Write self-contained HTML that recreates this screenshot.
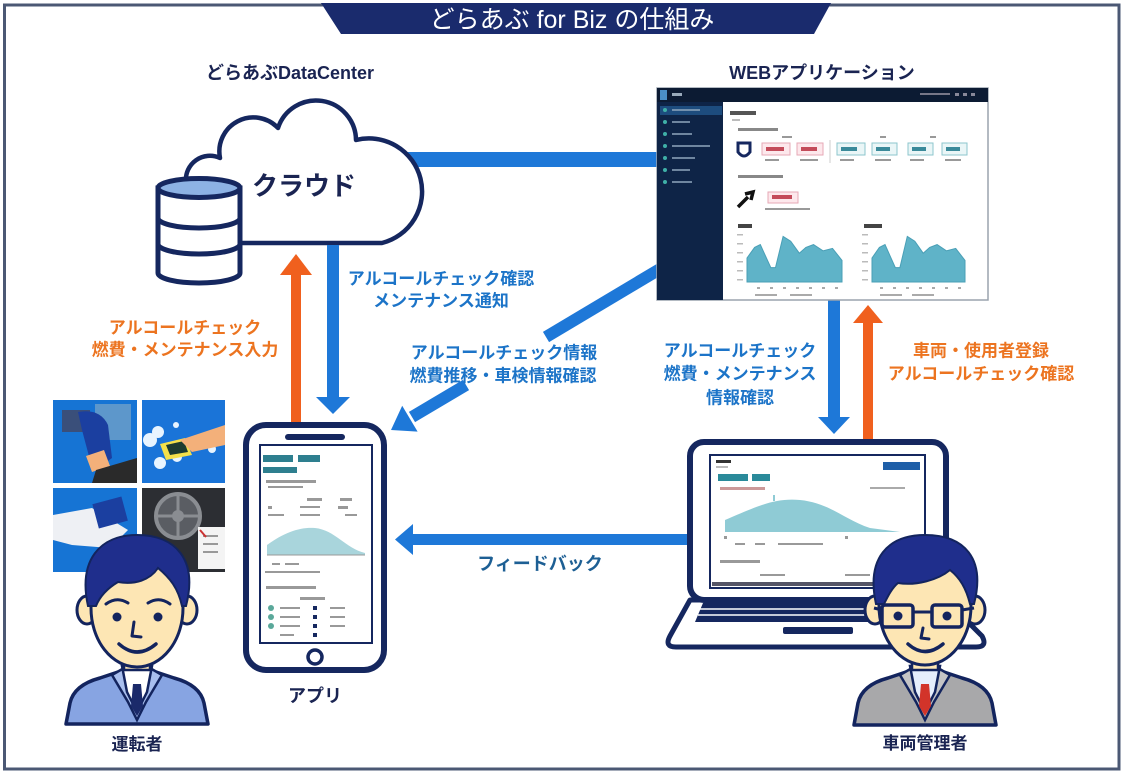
<!DOCTYPE html>
<html><head><meta charset="utf-8">
<style>
html,body{margin:0;padding:0;background:#fff;}
svg{display:block;}
text{font-family:"Liberation Sans","Noto Sans CJK JP",sans-serif;}
.lb{font-size:17px;font-weight:bold;text-anchor:middle;}
.bl{fill:#1c74c8;}
.or{fill:#ec7420;}
.nv{fill:#1a2452;}
</style></head>
<body>
<svg width="1124" height="776" viewBox="0 0 1124 776" xmlns="http://www.w3.org/2000/svg">
<rect x="0" y="0" width="1124" height="776" fill="#fff"/>
<!-- frame -->
<rect x="4.5" y="5" width="1114.5" height="764" fill="none" stroke="#4b5874" stroke-width="3"/>
<!-- banner -->
<polygon points="321,3 831,3 814,34 341,34" fill="#1a2b6d"/>
<text x="572" y="28" font-size="25" fill="#fff" text-anchor="middle">どらあぶ for Biz の仕組み</text>

<text x="290" y="79" font-size="18" font-weight="bold" class="nv" text-anchor="middle">どらあぶDataCenter</text>
<text x="822" y="79" font-size="18" font-weight="bold" class="nv" text-anchor="middle">WEBアプリケーション</text>

<!-- horizontal bar -->
<rect x="400" y="152" width="260" height="15" fill="#1e78d8"/>

<!-- cloud -->
<path d="M186,190 L186,182 A24,24 0 0 1 220,158 A34,34 0 0 1 278,128 A40,40 0 0 1 356,140 A53,53 0 0 1 382,243 L240,243 L200,243 Z" fill="#fff" stroke="#15275f" stroke-width="4.5" stroke-linejoin="round"/>
<text x="304" y="195" font-size="26" font-weight="bold" class="nv" text-anchor="middle">クラウド</text>

<!-- database -->
<path d="M158,188 L158,273 A41,10 0 0 0 240,273 L240,188 Z" fill="#fff" stroke="#15275f" stroke-width="5"/>
<ellipse cx="199" cy="188" rx="41" ry="9.5" fill="#8db2e4" stroke="#15275f" stroke-width="5"/>
<path d="M158,218 A41,10 0 0 0 240,218" fill="none" stroke="#15275f" stroke-width="5"/>
<path d="M158,244 A41,10 0 0 0 240,244" fill="none" stroke="#15275f" stroke-width="5"/>

<!-- left vertical arrows -->
<rect x="327" y="245" width="12" height="155" fill="#1e78d8"/>
<polygon points="316,397 350,397 333,414" fill="#1e78d8"/>
<rect x="291" y="272" width="10" height="152" fill="#f0601e"/>
<polygon points="280,275 312,275 296,254" fill="#f0601e"/>

<!-- left labels -->
<text x="441" y="284.5" class="lb bl">アルコールチェック確認</text>
<text x="441" y="306.5" class="lb bl">メンテナンス通知</text>
<text x="185" y="333.5" class="lb or">アルコールチェック</text>
<text x="185" y="355.5" class="lb or">燃費・メンテナンス入力</text>

<!-- diagonal arrow -->
<line x1="660" y1="269" x2="546" y2="337" stroke="#1e78d8" stroke-width="12"/>
<line x1="466" y1="385" x2="412" y2="417" stroke="#1e78d8" stroke-width="12"/>
<polygon points="391,430 417.6,431.6 402.2,405.8" fill="#1e78d8"/>
<text x="504" y="358.5" class="lb bl">アルコールチェック情報</text>
<text x="503" y="381.5" class="lb bl">燃費推移・車検情報確認</text>

<!-- right arrows -->
<rect x="828" y="298" width="12" height="122" fill="#1e78d8"/>
<polygon points="818,417 850,417 834,434" fill="#1e78d8"/>
<rect x="863" y="320" width="10" height="122" fill="#f0601e"/>
<polygon points="853,323 883,323 868,305" fill="#f0601e"/>
<text x="740" y="356.5" class="lb bl">アルコールチェック</text>
<text x="740" y="379.5" class="lb bl">燃費・メンテナンス</text>
<text x="740" y="403.5" class="lb bl">情報確認</text>
<text x="981" y="356.5" class="lb or">車両・使用者登録</text>
<text x="981" y="379.5" class="lb or">アルコールチェック確認</text>

<!-- feedback arrow -->
<rect x="408" y="534" width="282" height="11" fill="#1e78d8"/>
<polygon points="395,539.5 413,524 413,555" fill="#1e78d8"/>
<text x="540" y="570" font-size="18" font-weight="bold" fill="#1d5f94" text-anchor="middle">フィードバック</text>

<!-- web app screenshot -->
<g>
<rect x="657" y="88" width="331" height="212" fill="#fff" stroke="#9aa3ad" stroke-width="1.5"/>
<rect x="657" y="88" width="331" height="14" fill="#0c1b33"/>
<rect x="660" y="90" width="7" height="10" fill="#4b8fc7"/>
<rect x="672" y="93" width="10" height="3" fill="#9ab"/>
<rect x="920" y="93" width="30" height="2" fill="#778"/>
<rect x="955" y="93" width="4" height="3" fill="#889"/><rect x="963" y="93" width="4" height="3" fill="#889"/><rect x="971" y="93" width="4" height="3" fill="#889"/>
<rect x="657" y="102" width="66" height="198" fill="#0e2447"/>
<rect x="660" y="106" width="62" height="9" fill="#1d4c7e"/>
<g fill="#3fb0a8">
<circle cx="665" cy="110" r="2"/><circle cx="665" cy="122" r="2"/><circle cx="665" cy="134" r="2"/><circle cx="665" cy="146" r="2"/><circle cx="665" cy="158" r="2"/><circle cx="665" cy="170" r="2"/><circle cx="665" cy="182" r="2"/>
</g>
<g stroke="#8fa6bd" stroke-width="1.5">
<line x1="672" y1="110" x2="700" y2="110"/><line x1="672" y1="122" x2="690" y2="122"/><line x1="672" y1="134" x2="692" y2="134"/><line x1="672" y1="146" x2="710" y2="146"/><line x1="672" y1="158" x2="695" y2="158"/><line x1="672" y1="170" x2="690" y2="170"/><line x1="672" y1="182" x2="692" y2="182"/>
</g>
<rect x="730" y="111" width="26" height="4" fill="#555"/>
<rect x="732" y="119" width="8" height="2" fill="#bbb"/>
<rect x="738" y="128" width="40" height="3" fill="#888"/>
<path d="M738,143 L750,143 L750,152 Q744,160 738,152 Z" fill="none" stroke="#15275f" stroke-width="3"/>
<rect x="782" y="136" width="10" height="2" fill="#999"/>
<rect x="762" y="143" width="28" height="12" fill="#fde8ec" stroke="#e6a8b6"/>
<rect x="766" y="147" width="18" height="4" fill="#c44b5a"/>
<rect x="797" y="143" width="26" height="12" fill="#fde8ec" stroke="#e6a8b6"/>
<rect x="801" y="147" width="16" height="4" fill="#c44b5a"/>
<line x1="830" y1="140" x2="830" y2="163" stroke="#ccc"/>
<g fill="#eaf6f7" stroke="#8cc6cc">
<rect x="837" y="143" width="28" height="12"/><rect x="872" y="143" width="25" height="12"/><rect x="908" y="143" width="25" height="12"/><rect x="942" y="143" width="25" height="12"/>
</g>
<g fill="#3a8a9a">
<rect x="841" y="147" width="16" height="4"/><rect x="876" y="147" width="14" height="4"/><rect x="912" y="147" width="14" height="4"/><rect x="946" y="147" width="14" height="4"/>
</g>
<g fill="#999">
<rect x="765" y="159" width="14" height="2"/><rect x="800" y="159" width="18" height="2"/><rect x="840" y="159" width="14" height="2"/><rect x="875" y="159" width="16" height="2"/><rect x="910" y="159" width="14" height="2"/><rect x="945" y="159" width="16" height="2"/>
<rect x="880" y="136" width="6" height="2"/><rect x="930" y="136" width="6" height="2"/>
</g>
<rect x="738" y="175" width="45" height="3" fill="#888"/>
<path d="M738,207 L748,197 M745,194 L753,192 L751,200" stroke="#111" stroke-width="3.5" fill="none"/>
<rect x="768" y="192" width="30" height="11" fill="#fde8ec" stroke="#e6a8b6"/>
<rect x="772" y="195" width="20" height="4" fill="#c44b5a"/>
<rect x="765" y="208" width="45" height="2" fill="#999"/>
<rect x="738" y="224" width="14" height="4" fill="#444"/>
<rect x="864" y="224" width="18" height="4" fill="#444"/>
<g fill="#bbb">
<rect x="737" y="234" width="6" height="1.5"/><rect x="737" y="243" width="6" height="1.5"/><rect x="737" y="252" width="6" height="1.5"/><rect x="737" y="261" width="6" height="1.5"/><rect x="737" y="270" width="6" height="1.5"/><rect x="737" y="279" width="6" height="1.5"/>
<rect x="862" y="234" width="6" height="1.5"/><rect x="862" y="243" width="6" height="1.5"/><rect x="862" y="252" width="6" height="1.5"/><rect x="862" y="261" width="6" height="1.5"/><rect x="862" y="270" width="6" height="1.5"/><rect x="862" y="279" width="6" height="1.5"/>
</g>
<polygon points="747,282 747,258 754.6,247.4 760.3,244.6 770.8,267.6 775.5,267.6 783.1,236.4 790.7,241.2 799.3,253.2 805.9,247.4 813.5,244.6 823,250.8 832.5,248.4 842,260.4 842,282" fill="#5fb3c8" stroke="#4a9fb6" stroke-width="1"/>
<polygon points="872,282 872,258 879.4,247.4 885,244.6 895.3,267.6 899.9,267.6 907.3,236.4 914.8,241.2 923.2,253.2 929.7,247.4 937.1,244.6 946.4,250.8 955.7,248.4 965,260.4 965,282" fill="#5fb3c8" stroke="#4a9fb6" stroke-width="1"/>
<g fill="#aaa">
<rect x="757" y="287" width="3" height="2"/><rect x="770" y="287" width="3" height="2"/><rect x="783" y="287" width="3" height="2"/><rect x="796" y="287" width="3" height="2"/><rect x="809" y="287" width="3" height="2"/><rect x="822" y="287" width="3" height="2"/><rect x="835" y="287" width="3" height="2"/>
<rect x="880" y="287" width="3" height="2"/><rect x="893" y="287" width="3" height="2"/><rect x="906" y="287" width="3" height="2"/><rect x="919" y="287" width="3" height="2"/><rect x="932" y="287" width="3" height="2"/><rect x="945" y="287" width="3" height="2"/><rect x="958" y="287" width="3" height="2"/>
<rect x="755" y="294" width="22" height="2"/><rect x="790" y="294" width="22" height="2"/><rect x="880" y="294" width="22" height="2"/><rect x="912" y="294" width="22" height="2"/>
</g>
</g>

<!-- phone -->
<rect x="246" y="425" width="138" height="245" rx="20" fill="#fff" stroke="#15275f" stroke-width="6"/>
<rect x="285" y="434" width="60" height="6" rx="3" fill="#15275f"/>
<rect x="260" y="445" width="112" height="198" fill="#fff" stroke="#15275f" stroke-width="2"/>
<circle cx="315" cy="657" r="7" fill="none" stroke="#15275f" stroke-width="3.5"/>
<g fill="#2e7f8f">
<rect x="263" y="455" width="30" height="7"/><rect x="298" y="455" width="22" height="7"/><rect x="263" y="467" width="34" height="6"/>
</g>
<g fill="#999">
<rect x="266" y="480" width="50" height="3"/><rect x="268" y="486" width="35" height="2"/>
<rect x="307" y="498" width="15" height="3"/><rect x="340" y="498" width="12" height="3"/>
<rect x="268" y="506" width="4" height="3"/><rect x="300" y="506" width="20" height="2"/><rect x="338" y="506" width="10" height="3"/>
<rect x="268" y="514" width="16" height="2"/><rect x="300" y="514" width="20" height="2"/><rect x="345" y="514" width="12" height="2"/>
<rect x="272" y="563" width="8" height="2"/><rect x="285" y="563" width="14" height="2"/>
<rect x="265" y="571" width="55" height="2"/>
<rect x="266" y="586" width="50" height="3"/>
<rect x="300" y="597" width="25" height="3"/>
<rect x="280" y="607" width="20" height="2"/><rect x="330" y="607" width="15" height="2"/>
<rect x="280" y="616" width="20" height="2"/><rect x="330" y="616" width="15" height="2"/>
<rect x="280" y="625" width="20" height="2"/><rect x="330" y="625" width="15" height="2"/>
<rect x="280" y="634" width="14" height="2"/>
</g>
<path d="M267,555 L267,545 C285,532 300,527 315,528 C335,530 345,548 365,553 L365,555 Z" fill="#a9d5dc"/>
<line x1="267" y1="555" x2="365" y2="555" stroke="#999" stroke-width="1"/>
<g fill="#5aa89a">
<circle cx="271" cy="608" r="3"/><circle cx="271" cy="617" r="3"/><circle cx="271" cy="626" r="3"/>
</g>
<g fill="#15275f">
<rect x="313" y="606" width="4" height="4"/><rect x="313" y="615" width="4" height="4"/><rect x="313" y="624" width="4" height="4"/><rect x="313" y="633" width="4" height="4"/>
</g>
<text x="315" y="702" font-size="18" font-weight="bold" class="nv" text-anchor="middle">アプリ</text>

<!-- laptop -->
<path d="M690,600 L946,600 L982,636 Q988,647 976,647 L676,647 Q664,647 670,636 Z" fill="#fff" stroke="#15275f" stroke-width="5" stroke-linejoin="round"/>
<path d="M703,603 L935,603 L945,622 L695,622 Z" fill="#15275f"/>
<g stroke="#fff" stroke-width="1.5">
<line x1="700" y1="609" x2="940" y2="609"/><line x1="698" y1="615" x2="942" y2="615"/>
</g>
<rect x="783" y="627" width="70" height="7" rx="2" fill="#15275f"/>
<rect x="690" y="442" width="256" height="158" rx="14" fill="#fff" stroke="#15275f" stroke-width="6"/>
<rect x="710" y="455" width="215" height="133" fill="#fff" stroke="#15275f" stroke-width="2"/>
<rect x="716" y="460" width="15" height="3" fill="#333"/>
<rect x="716" y="466" width="12" height="2" fill="#bbb"/>
<rect x="883" y="462" width="37" height="8" fill="#1f5fa8"/>
<rect x="718" y="474" width="30" height="7" fill="#2a8a9a"/>
<rect x="752" y="474" width="18" height="7" fill="#2a8a9a"/>
<rect x="720" y="487" width="45" height="3" fill="#c99"/>
<rect x="870" y="487" width="35" height="2" fill="#aaa"/>
<path d="M725,532 L725,520 C760,505 775,498 800,500 C830,503 845,520 870,528 L900,532 Z" fill="#8fcbd5"/>
<rect x="773" y="495" width="2" height="6" fill="#8fcbd5"/>
<g fill="#999">
<rect x="724" y="536" width="3" height="3"/><rect x="845" y="536" width="3" height="3"/>
<rect x="735" y="543" width="10" height="2"/><rect x="755" y="543" width="10" height="2"/><rect x="778" y="543" width="45" height="2"/>
<rect x="720" y="560" width="40" height="3"/>
<rect x="760" y="574" width="25" height="2"/><rect x="845" y="574" width="25" height="2"/>
</g>
<rect x="712" y="582" width="210" height="4" fill="#556"/>

<!-- photo grid -->
<g>
<rect x="53" y="400" width="84" height="83" fill="#1674d4"/>
<rect x="95" y="404" width="36" height="36" fill="#6fa0c8" opacity="0.8"/>
<rect x="62" y="410" width="28" height="22" fill="#3a4f7a"/>
<path d="M78,412 Q100,408 108,425 L112,458 Q100,468 90,460 L82,430 Z" fill="#1b3fa0"/>
<path d="M86,456 L104,450 L110,466 L92,472 Z" fill="#f3b07a"/>
<path d="M96,470 L137,458 L137,483 L92,483 Z" fill="#2a2a2a"/>
<rect x="142" y="400" width="83" height="83" fill="#1a74d8"/>
<g fill="#e8f4ff"><circle cx="150" cy="440" r="7"/><circle cx="158" cy="432" r="6"/><circle cx="160" cy="463" r="6"/><circle cx="177" cy="457" r="5"/><circle cx="212" cy="449" r="4"/><circle cx="176" cy="425" r="3"/></g>
<path d="M160,444 L185,438 L192,455 L166,460 Z" fill="#f4e04a"/>
<path d="M166,445 L184,441 L188,452 L170,455 Z" fill="#1d3b30"/>
<path d="M180,440 L225,425 L225,445 L192,452 Z" fill="#f3b07a"/>
<rect x="53" y="488" width="84" height="84" fill="#1674d4"/>
<path d="M53,515 L92,508 L128,530 L110,548 L72,545 L53,540 Z" fill="#eef0f4"/>
<rect x="95" y="500" width="30" height="25" fill="#1b3fa0" transform="rotate(-15 110 512)"/>
<rect x="142" y="488" width="83" height="84" fill="#2c2e33"/>
<circle cx="178" cy="516" r="22" fill="#5a5d63" stroke="#8a8d92" stroke-width="4"/>
<circle cx="178" cy="516" r="6" fill="#8a8d92"/>
<g stroke="#8a8d92" stroke-width="3"><line x1="178" y1="496" x2="178" y2="536"/><line x1="158" y1="516" x2="198" y2="516"/></g>
<rect x="198" y="527" width="27" height="42" fill="#f4f4f4"/>
<g fill="#999"><rect x="203" y="535" width="15" height="2"/><rect x="203" y="543" width="15" height="2"/><rect x="203" y="551" width="15" height="2"/></g>
<path d="M200,530 L206,537" stroke="#c33" stroke-width="2"/>
</g>

<!-- driver -->
<g id="drv">
<path d="M66,724 L70,703 Q74,685 100,678 L124,670 L150,670 L174,678 Q200,685 204,703 L208,724 Z" fill="#87a4e2" stroke="#13245e" stroke-width="3.5" stroke-linejoin="round"/>
<path d="M112,675 L128,702 L137,720 L146,702 L162,675 L150,668 L124,668 Z" fill="#a9bfee" stroke="#13245e" stroke-width="2.5"/>
<path d="M122,666 L152,666 L147,692 L137,712 L127,692 Z" fill="#fff" stroke="#13245e" stroke-width="2.5"/>
<path d="M133,684 L141,684 L143,706 L137,716 L131,706 Z" fill="#1b2a6a"/>
<rect x="124" y="648" width="26" height="22" fill="#fde6b4" stroke="#13245e" stroke-width="2.5"/>
<ellipse cx="87" cy="610" rx="10" ry="14" fill="#fde6b4" stroke="#13245e" stroke-width="3"/>
<ellipse cx="187" cy="610" rx="10" ry="14" fill="#fde6b4" stroke="#13245e" stroke-width="3"/>
<ellipse cx="137" cy="608" rx="46" ry="59" fill="#fde6b4" stroke="#13245e" stroke-width="3"/>
<path d="M88,606 C78,560 100,535 137,535 C176,535 198,560 186,606 L182,606 C178,588 170,578 158,568 C150,580 135,585 118,582 C108,588 100,596 96,606 Z" fill="#1f2e8c" stroke="#13245e" stroke-width="2"/>
<path d="M106,604 Q117,596 128,603 M148,603 Q159,596 170,604" fill="none" stroke="#13245e" stroke-width="3" stroke-linecap="round"/>
<circle cx="117" cy="617" r="4.5" fill="#13245e"/>
<circle cx="158" cy="617" r="4.5" fill="#13245e"/>
<path d="M134,622 L132,636 L141,637" fill="none" stroke="#13245e" stroke-width="3" stroke-linecap="round" stroke-linejoin="round"/>
<path d="M119,644 Q137,660 156,644" fill="none" stroke="#13245e" stroke-width="3.5" stroke-linecap="round"/>
</g>
<text x="137" y="750" font-size="17" font-weight="bold" class="nv" text-anchor="middle">運転者</text>

<!-- manager -->
<g transform="translate(788,-2)">
<path d="M66,727 L70,705 Q74,687 100,680 L124,672 L150,672 L174,680 Q200,687 204,705 L208,727 Z" fill="#a8a8aa" stroke="#13245e" stroke-width="3.5" stroke-linejoin="round"/>
<path d="M112,677 L128,704 L137,722 L146,704 L162,677 L150,670 L124,670 Z" fill="#c4c4c6" stroke="#13245e" stroke-width="2.5"/>
<path d="M122,668 L152,668 L147,694 L137,714 L127,694 Z" fill="#e6eefc" stroke="#13245e" stroke-width="2.5"/>
<path d="M133,686 L141,686 L143,708 L137,718 L131,708 Z" fill="#d2342a"/>
<rect x="124" y="650" width="26" height="22" fill="#fde6b4" stroke="#13245e" stroke-width="2.5"/>
<ellipse cx="87" cy="612" rx="10" ry="14" fill="#fde6b4" stroke="#13245e" stroke-width="3"/>
<ellipse cx="187" cy="612" rx="10" ry="14" fill="#fde6b4" stroke="#13245e" stroke-width="3"/>
<ellipse cx="137" cy="608" rx="46" ry="59" fill="#fde6b4" stroke="#13245e" stroke-width="3"/>
<path d="M88,606 C78,560 100,537 137,537 C176,537 198,560 186,606 L182,606 C178,590 172,580 162,572 C150,582 128,588 110,585 C104,590 100,598 96,606 Z" fill="#1f2e8c" stroke="#13245e" stroke-width="2"/>
<rect x="94" y="607" width="31" height="22" rx="3" fill="none" stroke="#13245e" stroke-width="3.5"/>
<rect x="144" y="607" width="30" height="22" rx="3" fill="none" stroke="#13245e" stroke-width="3.5"/>
<path d="M125,614 L144,614 M94,612 L86,610 M174,612 L186,610" stroke="#13245e" stroke-width="3"/>
<circle cx="110" cy="618" r="4.5" fill="#13245e"/>
<circle cx="159" cy="618" r="4.5" fill="#13245e"/>
<path d="M135,630 L133,640 L141,641" fill="none" stroke="#13245e" stroke-width="3" stroke-linecap="round" stroke-linejoin="round"/>
<path d="M120,646 Q137,661 155,646" fill="none" stroke="#13245e" stroke-width="3.5" stroke-linecap="round"/>
</g>
<text x="925" y="749" font-size="17" font-weight="bold" class="nv" text-anchor="middle">車両管理者</text>
</svg>
</body></html>
